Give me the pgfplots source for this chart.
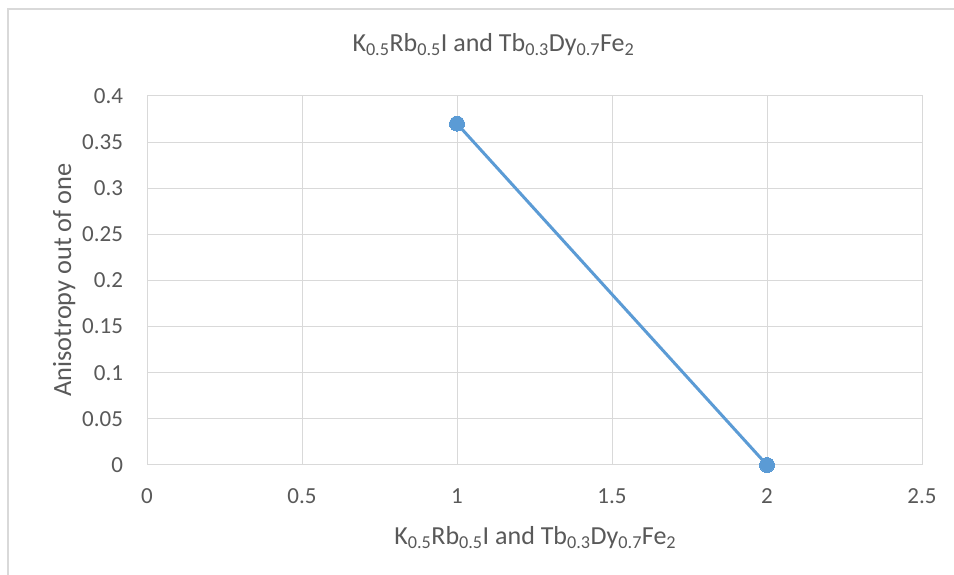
\documentclass[border=0pt]{standalone}
\usepackage{fontspec}
\setmainfont{Carlito}
\usepackage{pgfplots}
\pgfplotsset{compat=1.18}
\definecolor{txt}{RGB}{89,89,89}
\definecolor{grd}{RGB}{217,217,217}
\definecolor{ser}{RGB}{91,155,213}
\newcommand{\chem}{K\textsubscript{0.5}Rb\textsubscript{0.5}I and Tb\textsubscript{0.3}Dy\textsubscript{0.7}Fe\textsubscript{2}}
\begin{document}
\begin{tikzpicture}[x=1pt,y=1pt]
\useasboundingbox (0,0) rectangle (954,575);
\fill[white] (0,0) rectangle (954,575);
\draw[grd, line width=1.5pt] (8,0) -- (8,566) -- (954,566);
\begin{axis}[
  at={(147pt,110pt)}, anchor=south west,
  scale only axis, width=775pt, height=369pt,
  xmin=0, xmax=2.5, ymin=0, ymax=0.4,
  xtick={0,0.5,1,1.5,2,2.5}, ytick={0,0.05,0.1,0.15,0.2,0.25,0.3,0.35,0.4},
  xticklabels={0,0.5,1,1.5,2,2.5},
  yticklabels={0,0.05,0.1,0.15,0.2,0.25,0.3,0.35,0.4},
  scaled ticks=false,
  grid=major, major grid style={grd, line width=1pt},
  axis line style={grd, line width=1pt},
  major tick length=0pt,
  tick label style={font=\fontsize{23}{27}\selectfont, text=txt},
  xticklabel style={anchor=base, yshift=-39pt},
  yticklabel style={anchor=east, xshift=-20.5pt},
  title={\chem},
  title style={font=\fontsize{26}{30}\selectfont, text=txt, at={(axis description cs:0.447,1.103)}, anchor=base},
  xlabel={\chem},
  xlabel style={font=\fontsize{26}{30}\selectfont, text=txt, at={(axis description cs:0.501,-0.2168)}, anchor=base},
  ylabel={Anisotropy out of one},
  ylabel style={font=\fontsize{26.3}{30}\selectfont, text=txt, at={(axis description cs:-0.098,0.501)}, anchor=base, rotate=0},
]
\addplot[ser, line width=3pt, mark=*, mark size=7.5pt, mark options={fill=ser, draw=ser, line width=0pt}] coordinates {(1,0.37) (2,0)};
\end{axis}
\end{tikzpicture}
\end{document}
